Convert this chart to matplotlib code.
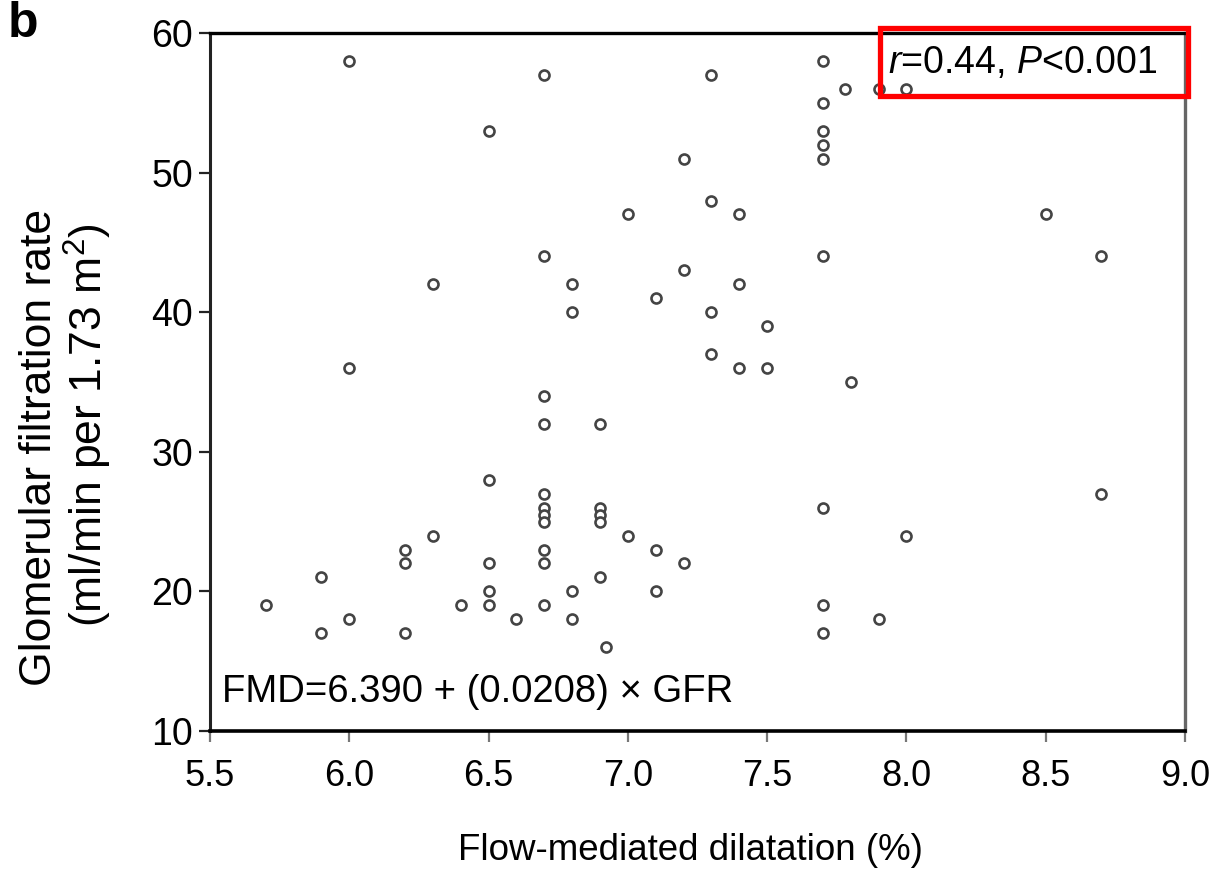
import matplotlib
matplotlib.use("Agg")
import matplotlib.pyplot as plt
from matplotlib import font_manager
from matplotlib.patches import Rectangle

# ---- data ----
fmd = [6.0, 6.7, 7.3, 7.7, 7.78, 7.9, 8.0, 7.7, 6.5, 7.7, 7.7, 7.7, 7.2, 7.3,
       7.0, 7.4, 8.5, 6.7, 7.7, 8.7, 7.2, 6.3, 6.8, 7.4, 7.1, 6.8, 7.3, 7.5,
       7.3, 6.0, 7.4, 7.5, 7.8, 6.7, 6.7, 6.9, 6.5, 6.7, 8.7, 6.7, 6.9, 7.7,
       6.7, 6.9, 6.7, 6.9, 6.3, 7.0, 8.0, 6.2, 6.7, 7.1, 6.2, 6.5, 6.7, 7.2,
       5.9, 6.9, 6.5, 6.8, 7.1, 5.7, 6.4, 6.5, 6.7, 7.7, 6.0, 6.6, 6.8, 7.9,
       5.9, 6.2, 7.7, 6.92]
gfr = [58, 57, 57, 58, 56, 56, 56, 55, 53, 53, 52, 51, 51, 48,
       47, 47, 47, 44, 44, 44, 43, 42, 42, 42, 41, 40, 40, 39,
       37, 36, 36, 36, 35, 34, 32, 32, 28, 27, 27, 26, 26, 26,
       25.5, 25.5, 25, 25, 24, 24, 24, 23, 23, 23, 22, 22, 22, 22,
       21, 21, 20, 20, 20, 19, 19, 19, 19, 19, 18, 18, 18, 18,
       17, 17, 17, 16]
x_ticks = [5.5, 6.0, 6.5, 7.0, 7.5, 8.0, 8.5, 9.0]
y_ticks = [10, 20, 30, 40, 50, 60]
x_label = "Flow-mediated dilatation (%)"
y_label_1 = "Glomerular filtration rate"
y_label_2 = "(ml/min per 1.73 m$^2$)"
equation = "FMD=6.390 + (0.0208) \u00d7 GFR"
panel = "b"

# ---- fonts ----
names = {f.name for f in font_manager.fontManager.ttflist}
base_font = "Liberation Sans" if "Liberation Sans" in names else "DejaVu Sans"
narrow_font = "Liberation Sans Narrow" if "Liberation Sans Narrow" in names else base_font
narrow = narrow_font != base_font
plt.rcParams['font.family'] = [base_font, 'DejaVu Sans']
plt.rcParams['mathtext.fontset'] = 'custom'
plt.rcParams['mathtext.rm'] = base_font
plt.rcParams['mathtext.it'] = base_font + ':italic'

W, H = 1214, 883
fig = plt.figure(figsize=(W / 100, H / 100), dpi=100)
ax = fig.add_axes([210 / W, 1 - 731 / H, (1185 - 210) / W, (731 - 33) / H])

ax.plot(fmd, gfr, linestyle='none', marker='o', markersize=7.2,
        markerfacecolor='white', markeredgecolor='#444444', markeredgewidth=1.9)

ax.set_xlim(5.5, 9.0)
ax.set_ylim(10, 60)
ax.set_xticks(x_ticks)
ax.set_yticks(y_ticks)
ax.set_xticklabels([f"{v:.1f}" for v in x_ticks],
                   fontsize=30 if narrow else 26, family=narrow_font)
ax.set_yticklabels([str(v) for v in y_ticks], fontsize=27)
ax.tick_params(axis='x', direction='out', length=8, width=1.6, color='#777777', pad=12)
ax.tick_params(axis='y', direction='out', length=8, width=1.6, color='#222222', pad=4)

for side, lw, col in [('bottom', 2.6, 'black'), ('top', 2.4, 'black'),
                      ('left', 2.2, '#222222'), ('right', 2.4, '#666666')]:
    ax.spines[side].set_linewidth(lw)
    ax.spines[side].set_color(col)

fig.text(690 / W, 1 - 850 / H, x_label, fontsize=32 if narrow else 26.5,
         family=narrow_font, ha='center', va='center')
fig.text(40 / W, 1 - 447 / H, y_label_1, fontsize=34 if narrow else 32,
         family=narrow_font, rotation=90, ha='center', va='center')
fig.text(88 / W, 1 - 425 / H, y_label_2, fontsize=34 if narrow else 32,
         family=narrow_font, rotation=90, ha='center', va='center')

fig.text(222 / W, 1 - 692 / H, equation, fontsize=27.5, ha='left', va='center')

fig.text(8 / W, 1 - 24 / H, panel, fontsize=36, fontweight='bold',
         ha='left', va='center')

# red annotation box
fig.patches.append(Rectangle((880 / W, 1 - 96 / H), (1188 - 880) / W, (96 - 28) / H,
                             transform=fig.transFigure, fill=False,
                             edgecolor='#ff0000', linewidth=3.8, zorder=10))
fig.text(888 / W, 1 - 63 / H, r"$\it{r}$=0.44, $\it{P}$<0.001", fontsize=27,
         ha='left', va='center', zorder=11)

fig.savefig("out.png", dpi=100)
